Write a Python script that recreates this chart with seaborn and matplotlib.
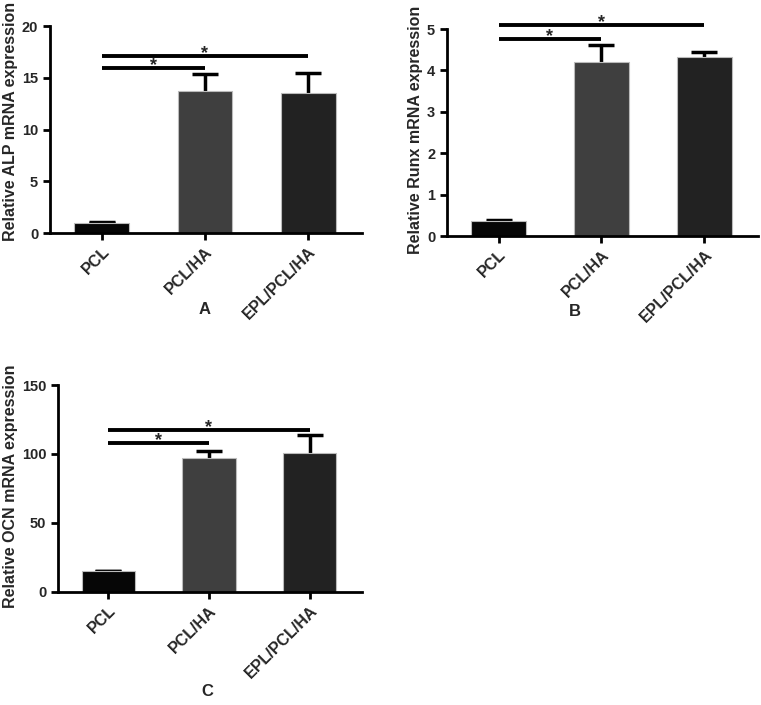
import matplotlib
matplotlib.use("Agg")
import matplotlib.pyplot as plt
import seaborn as sns
import pandas as pd

# Data
groups = ["PCL", "PCL/HA", "EPL/PCL/HA"]
alp_mean = [1.0, 13.7, 13.5]
alp_err = [0.05, 1.7, 2.0]
runx_mean = [0.37, 4.2, 4.32]
runx_err = [0.02, 0.42, 0.13]
ocn_mean = [15.0, 97.0, 100.5]
ocn_err = [0.0, 5.0, 13.0]
bar_colors = ["#060606", "#3f3f3f", "#222222"]

sns.set_theme(style="white")
plt.rcParams["font.family"] = ["Liberation Sans", "DejaVu Sans"]
plt.rcParams["font.weight"] = "bold"


def panel(ax, mean, err, ylabel, ymax, step, sig_levels, letter, letter_xy, label_xy):
    df = pd.DataFrame({"group": groups, "value": mean})
    sns.barplot(data=df, x="group", y="value", hue="group", palette=bar_colors,
                legend=False, errorbar=None, width=0.53, ax=ax,
                edgecolor="#bbbbbb", linewidth=0.8, zorder=2)
    # error bars sit behind the bars so only the upper half shows
    ax.errorbar(range(len(groups)), mean, yerr=err, fmt="none",
                ecolor="black", elinewidth=2.5, capsize=9.5, capthick=2.5, zorder=1)
    # significance bars
    for (x1, x2, y) in sig_levels:
        ax.plot([x1, x2], [y, y], color="black", lw=2.8, clip_on=False, solid_capstyle="butt")
        ax.annotate("*", xy=((x1 + x2) / 2, y), xytext=(0, -1.5), textcoords="offset points",
                    ha="center", va="baseline", fontsize=13, fontweight="bold",
                    annotation_clip=False)
    ax.set_xlim(-0.5, 2.52)
    ax.set_ylim(0, ymax)
    ax.set_yticks([i * step for i in range(int(round(ymax / step)) + 1)])
    ax.set_xlabel("")
    ax.set_ylabel(ylabel, fontsize=11.5, fontweight="bold")
    ax.yaxis.set_label_coords(*label_xy)
    sns.despine(ax=ax)
    for s in ["left", "bottom"]:
        ax.spines[s].set_linewidth(2)
        ax.spines[s].set_color("black")
    ax.tick_params(axis="both", direction="out", length=5, width=2, color="black",
                   left=True, bottom=True, labelsize=10.5)
    ax.tick_params(axis="x", pad=3)
    ax.set_xticks(range(len(groups)))
    ax.set_xticklabels(groups, rotation=45, ha="right", rotation_mode="anchor",
                       fontweight="bold", fontsize=11.5)
    for t in ax.get_yticklabels():
        t.set_fontweight("bold")
    ax.figure.text(letter_xy[0], letter_xy[1], letter, ha="center", va="center",
                   fontsize=12, fontweight="bold")


fig = plt.figure(figsize=(7.61, 7.05), dpi=100)
axA = fig.add_axes([0.0657, 0.6695, 0.41, 0.2936])
axB = fig.add_axes([0.5874, 0.6652, 0.4087, 0.2936])
axC = fig.add_axes([0.0762, 0.1603, 0.3995, 0.2936])

panel(axA, alp_mean, alp_err, "Relative ALP mRNA expression", 20, 5,
      [(0, 1, 15.9), (0, 2, 17.1)], "A", (205 / 761, 1 - 310 / 705), (-0.103, 0.54))
panel(axB, runx_mean, runx_err, "Relative Runx mRNA expression", 5, 1,
      [(0, 1, 4.75), (0, 2, 5.1)], "B", (575 / 761, 1 - 312 / 705), (-0.077, 0.515))
panel(axC, ocn_mean, ocn_err, "Relative OCN mRNA expression", 150, 50,
      [(0, 1, 108), (0, 2, 117.5)], "C", (207 / 761, 1 - 692 / 705), (-0.131, 0.51))

fig.savefig("out.png", dpi=100)
